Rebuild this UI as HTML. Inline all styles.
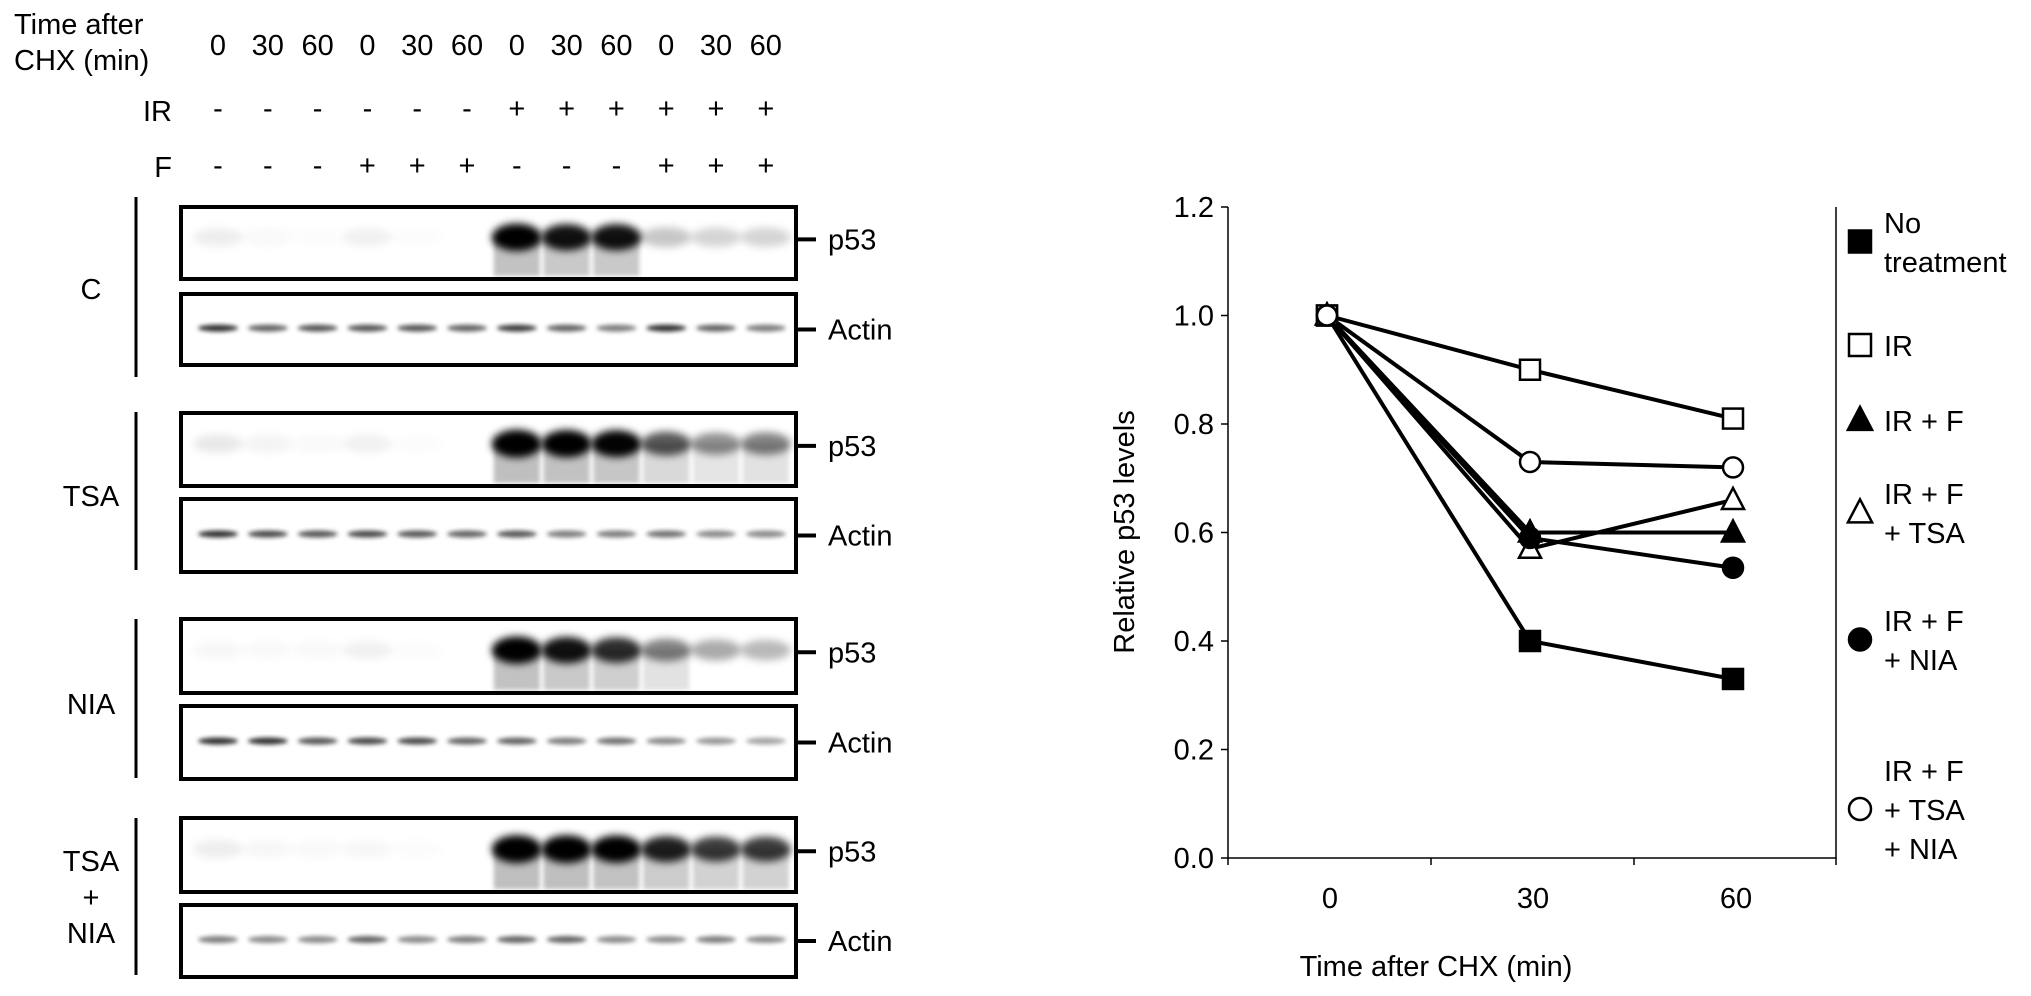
<!DOCTYPE html>
<html><head><meta charset="utf-8"><style>
html,body{margin:0;padding:0;background:#fff;}
svg{display:block;font-family:"Liberation Sans",sans-serif;}
</style></head><body>
<svg id="fig" width="2031" height="996" viewBox="0 0 2031 996">
<defs>
<filter id="blur" x="-50%" y="-50%" width="200%" height="200%"><feGaussianBlur stdDeviation="4"/></filter>
<filter id="blur2" x="-50%" y="-50%" width="200%" height="200%"><feGaussianBlur stdDeviation="2"/></filter>
</defs>
<g id="blot"></g>
<g id="chart"></g>
</svg>
<script>
const NS="http://www.w3.org/2000/svg";
function mk(tag,attrs,parent,txt){const e=document.createElementNS(NS,tag);for(const k in attrs)e.setAttribute(k,attrs[k]);if(txt!==undefined)e.textContent=txt;parent.appendChild(e);return e;}
const FS=29;
// ---------- Western blot ----------
const blot=document.getElementById('blot');
const laneTimes=["0","30","60","0","30","60","0","30","60","0","30","60"];
const irRow=["-","-","-","-","-","-","+","+","+","+","+","+"];
const fRow=["-","-","-","+","+","+","-","-","-","+","+","+"];
const panelNames=["C","TSA","NIA","TSA+NIA"];
const p53C=[0.06,0.02,0.01,0.05,0.01,0,0.95,0.85,0.85,0.2,0.15,0.15];
const p53TSA=[0.08,0.04,0.02,0.05,0.01,0,1,0.95,0.9,0.6,0.4,0.45];
const p53NIA=[0.03,0.02,0.02,0.05,0.01,0,0.95,0.85,0.75,0.45,0.3,0.25];
const p53TN=[0.06,0.03,0.02,0.03,0.01,0,1,1,0.95,0.8,0.7,0.7];
const actC=[0.8,0.6,0.65,0.65,0.65,0.6,0.75,0.6,0.5,0.8,0.6,0.5];
const actTSA=[0.8,0.7,0.65,0.7,0.65,0.6,0.65,0.5,0.5,0.55,0.45,0.45];
const actNIA=[0.8,0.8,0.65,0.7,0.7,0.6,0.6,0.5,0.55,0.45,0.4,0.35];
const actTN=[0.5,0.45,0.45,0.6,0.45,0.5,0.6,0.6,0.45,0.45,0.5,0.45];
const p53Sets=[p53C,p53TSA,p53NIA,p53TN];
const actSets=[actC,actTSA,actNIA,actTN];

const laneX=i=>218+i*49.8;
const txt=(x,y,s,anchor,name,size)=>{const t=mk('text',{x:x,y:y,'font-size':size||FS,'text-anchor':anchor||'middle',fill:'#000'},blot,s);return t;};
txt(14,34,"Time after","start","time-header-line1");
txt(14,70,"CHX (min)","start","time-header-line2");
txt(172,121,"IR","end","ir-row-label");
txt(172,177,"F","end","f-row-label");
laneTimes.forEach((s,i)=>txt(laneX(i),55,s,"middle","lane-time-"+i));
irRow.forEach((s,i)=>txt(laneX(i),118,s,"middle","ir-sign-"+i));
fRow.forEach((s,i)=>txt(laneX(i),175,s,"middle","f-sign-"+i));

const panels=[{p:[207,279],a:[294,365],v:[197,377],ly:[299]},{p:[413,486],a:[499,572],v:[412,570],ly:[506]},{p:[619,693],a:[706,779],v:[619,778],ly:[714]},{p:[818,892],a:[905,977],v:[818,975],ly:[871,907,943]}];
const tnLabels=["TSA","+","NIA"];
panels.forEach((pn,k)=>{
  const vl=mk('line',{x1:136,x2:136,y1:pn.v[0],y2:pn.v[1],stroke:'#000','stroke-width':3},blot);
  
  if(k<3) txt(91,pn.ly[0],panelNames[k],"middle","treatment-label-"+k);
  else pn.ly.forEach((y,j)=>txt(91,y,tnLabels[j],"middle","treatment-label-3-"+j));
  [['p',p53Sets[k],'p53'],['a',actSets[k],'Actin']].forEach(([key,vals,lab])=>{
    const y0=pn[key][0],y1=pn[key][1];
    const g=mk('g',{},blot);
    vals.forEach((v,i)=>{
      if(key==='p'){
        const cy=y0+(y1-y0)*0.42;
        if(v>0.3) mk('rect',{x:laneX(i)-23,y:cy,width:46,height:y1-cy-3,fill:'#000','fill-opacity':v*0.25,filter:'url(#blur2)'},g);
        mk('ellipse',{cx:laneX(i),cy:cy,rx:25,ry:9+v*5,fill:'#000','fill-opacity':Math.min(1,v*1.1),filter:'url(#blur)'},g);
      } else {
        const cy=y0+(y1-y0)*0.48;
        mk('ellipse',{cx:laneX(i),cy:cy,rx:20,ry:3.5,fill:'#000','fill-opacity':v,filter:'url(#blur2)'},g);
      }
    });
    const r=mk('rect',{x:181,y:y0,width:615,height:y1-y0,fill:'none',stroke:'#000','stroke-width':4},blot);
    
    const my=key==='p'?y0+(y1-y0)*0.45:y0+(y1-y0)*0.5;
    mk('line',{x1:798,x2:816,y1:my,y2:my,stroke:'#000','stroke-width':4},blot);
    txt(828,my+10,lab,"start",lab.toLowerCase()+'-label-'+k);
  });
});

// ---------- Line chart ----------
const chart=document.getElementById('chart');
const xCats=[0,30,60];
const yTicks=["0.0","0.2","0.4","0.6","0.8","1.0","1.2"];
const yTickVals=[0,0.2,0.4,0.6,0.8,1.0,1.2];
const noTreatment=[1,0.40,0.33];
const irVals=[1,0.90,0.81];
const irF=[1,0.60,0.60];
const irFTsa=[1,0.57,0.66];
const irFNia=[1,0.59,0.535];
const irFTsaNia=[1,0.73,0.72];
const seriesNames=["no-treatment","ir","ir-f","ir-f-tsa","ir-f-nia","ir-f-tsa-nia"];
const seriesVals=[noTreatment,irVals,irF,irFTsa,irFNia,irFTsaNia];
const seriesMarks=["fsq","osq","ftri","otri","fcirc","ocirc"];
const legendLines=[["No","treatment"],["IR"],["IR + F"],["IR + F","+ TSA"],["IR + F","+ NIA"],["IR + F","+ TSA","+ NIA"]];

const PL=1228,PR=1836,PT=207,PB=858;
const ys=v=>PB-(v/1.2)*(PB-PT);
const xs=v=>1327+(v/30)*203;

const ax=mk('path',{d:`M${PL},${PT} V${PB} H${PR} V${PT}`,fill:'none',stroke:'#000','stroke-width':1.5},chart);

yTickVals.forEach((v,i)=>{
  mk('line',{x1:PL-7,x2:PL,y1:ys(v),y2:ys(v),stroke:'#000','stroke-width':1.5},chart);
  const t=mk('text',{x:PL-14,y:ys(v)+10,'font-size':FS,'text-anchor':'end'},chart,yTicks[i]);
  
});
[1228,1431,1634,1836].forEach(x=>mk('line',{x1:x,x2:x,y1:PB,y2:PB+7,stroke:'#000','stroke-width':1.5},chart));
xCats.forEach(c=>{const t=mk('text',{x:xs(c)+3,y:PB+50,'font-size':FS,'text-anchor':'middle'},chart,String(c));
  });
const xt=mk('text',{x:1436,y:976,'font-size':FS,'text-anchor':'middle'},chart,"Time after CHX (min)");

const yt=mk('text',{x:0,y:0,'font-size':FS,'text-anchor':'middle',transform:'translate(1134,532) rotate(-90)'},chart,"Relative  p53 levels");


function marker(kind,x,y,parent,sc){
  sc=sc||1;
  const fill=kind[0]==='f'?'#000':'#fff';
  if(kind.endsWith('sq')) return mk('rect',{x:x-10*sc,y:y-10*sc,width:20*sc,height:20*sc,fill:fill,stroke:'#000','stroke-width':2.5},parent);
  if(kind.endsWith('tri')) return mk('polygon',{points:`${x},${y-12*sc} ${x+11*sc},${y+9*sc} ${x-11*sc},${y+9*sc}`,fill:fill,stroke:'#000','stroke-width':2.5},parent);
  return mk('circle',{cx:x,cy:y,r:10*sc,fill:fill,stroke:'#000','stroke-width':2.5},parent);
}
seriesVals.forEach((vals,s)=>{
  const g=mk('g',{},chart);
  
  
  const pl=mk('polyline',{points:vals.map((v,i)=>xs(xCats[i])+','+ys(v)).join(' '),fill:'none',stroke:'#000','stroke-width':4},g);
  
  
});
seriesVals.forEach((vals,s)=>{
  vals.forEach((v,i)=>{
    const m=marker(seriesMarks[s],xs(xCats[i]),ys(v),chart);
    
    
  });
});
const legTop=[223,346,421,494,621,771];
legendLines.forEach((lines,s)=>{
  const g=mk('g',{},chart);
  
  
  const mid=legTop[s]+(lines.length-1)*19.5;
  marker(seriesMarks[s],1860,mid-1,g,1.1);
  lines.forEach((ln,j)=>mk('text',{x:1884,y:legTop[s]+j*39+10,'font-size':FS},g,ln));
});
</script>
</body></html>
